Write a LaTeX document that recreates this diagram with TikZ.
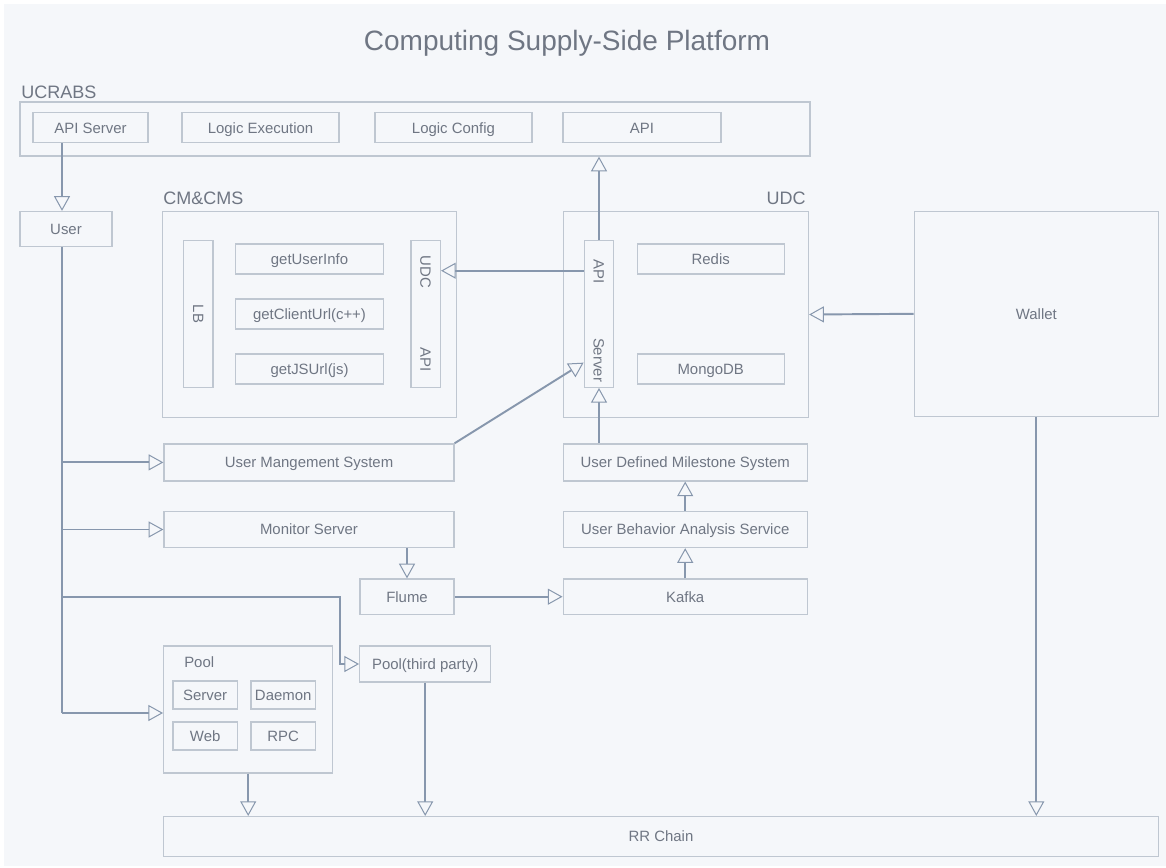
\documentclass[tikz,border=0pt]{standalone}
\usepackage{fontspec}
\setmainfont{Liberation Sans}
\usetikzlibrary{arrows.meta,calc}
\newlength\pxu
\setlength\pxu{0.75pt}
\definecolor{bgc}{HTML}{F5F7FA}
\definecolor{edgec}{HTML}{BFC7D1}
\definecolor{linec}{HTML}{8797AD}
\definecolor{textc}{HTML}{6F7683}

\begin{document}
\begin{tikzpicture}[x=\pxu,y=-\pxu]
  \tikzset{
    txt/.style={inner sep=0pt,text=textc,text height=8pt,text depth=0pt,font=\fontsize{11.2}{13}\selectfont},
    box/.style={txt,draw=edgec,line width=1pt},
    sz/.style 2 args={minimum width=#1\pxu,minimum height=#2\pxu},
    grp/.style={inner sep=0pt,text=textc,font=\fontsize{13.5}{16}\selectfont},
    heading/.style={inner sep=0pt,text=textc,font=\fontsize{21}{25}\selectfont},
    wire/.style={draw=linec,line width=1.45pt},
    conn/.style={wire,-{Triangle[length=11pt,width=12pt,fill=bgc,line width=0.75pt]}}
  }
  \fill[white] (0,0) rectangle (1166,867);
  \fill[bgc] (4,4) rectangle (1166,866);
  \useasboundingbox (0,0) rectangle (1166,867);

  \node[heading] (title) at (567,43) {Computing Supply-Side Platform};

  \node[grp,anchor=west] (ucrabslbl) at (21,92) {UCRABS};
  \node[box,sz={790}{54}] (ucrabs) at (415,129) {};
  \node[box,sz={115}{30}] (apiserver) at (90.5,127.7) {API Server};
  \node[box,sz={157}{30}] (logicexec) at (260.5,127.7) {Logic Execution};
  \node[box,sz={157}{30}] (logicconf) at (453.5,127.7) {Logic Config};
  \node[box,sz={158}{30}] (ucapi) at (642,127.7) {API};

  \node[box,sz={92}{35}] (user) at (66,229) {User};

  \node[grp,anchor=west] (cmslbl) at (163,198) {CM\&CMS};
  \node[box,sz={294}{206}] (cms) at (309.5,314.5) {};
  \node[box,sz={29.4}{146.6}] (lb) at (198.4,314) {};
  \node[txt,rotate=-90] (lbtxt) at (lb) {LB};
  \node[box,sz={148}{30}] (getuser) at (309.5,259) {getUserInfo};
  \node[box,sz={148}{30}] (getclient) at (309.5,314) {getClientUrl(c++)};
  \node[box,sz={148}{30}] (getjs) at (309.5,369) {getJSUrl(js)};
  \node[box,sz={29.4}{146.6}] (udcapi) at (425.7,314) {};
  \node[txt,rotate=-90] (udcapitop) at (425.7,272) {UDC};
  \node[txt,rotate=-90] (udcapibot) at (425.7,360) {API};

  \node[grp,anchor=east] (udclbl) at (806,198) {UDC};
  \node[box,sz={245}{206}] (udc) at (686,314.5) {};
  \node[box,sz={29.5}{146.6}] (apisrv) at (599,314) {};
  \node[txt,rotate=-90] (apisrvtop) at (599,272) {API};
  \node[txt,rotate=-90] (apisrvbot) at (599,360) {Server};
  \node[box,sz={147}{30}] (redis) at (710.7,259) {Redis};
  \node[box,sz={147}{30}] (mongo) at (710.7,369) {MongoDB};

  \node[box,sz={244}{205}] (wallet) at (1036.3,313.8) {Wallet};

  \node[box,sz={290}{37}] (ums) at (309,462.4) {User Mangement System};
  \node[box,sz={290}{36}] (monitor) at (309,529.5) {Monitor Server};
  \node[box,sz={244}{37}] (udms) at (685.2,462.4) {User Defined Milestone System};
  \node[box,sz={244}{36}] (ubas) at (685.2,529.5) {User Behavior Analysis Service};
  \node[box,sz={244}{35.3}] (kafka) at (685.2,596.7) {Kafka};
  \node[box,sz={94}{35.3}] (flume) at (407,596.7) {Flume};
  \node[box,sz={131}{36}] (pool3) at (425.2,664) {Pool(third party)};

  \node[box,sz={169}{127}] (pool) at (248.2,709.4) {};
  \node[txt,anchor=west] (poollbl) at (184,662) {Pool};
  \node[box,sz={64.4}{28.3}] (psrv) at (205.2,695) {Server};
  \node[box,sz={64.4}{28.3}] (pdaemon) at (283.2,695) {Daemon};
  \node[box,sz={64.4}{28.3}] (pweb) at (205.2,736) {Web};
  \node[box,sz={64.4}{28.3}] (prpc) at (283.2,736) {RPC};

  \node[box,sz={995}{40}] (rr) at (661,836.6) {RR Chain};

  \coordinate (trunk) at (62,713);
  \coordinate (bend) at ([xshift=-14pt]pool3.west);
  \coordinate (udcin) at ([yshift=-23pt]udcapi.north east);
  \draw[conn] (apiserver.south -| trunk) -- (user.north -| trunk);
  \draw[wire] (user.south -| trunk) -- (trunk);
  \draw[conn] (trunk |- ums.west) -- (ums.west);
  \draw[conn] (trunk |- monitor.west) -- (monitor.west);
  \draw[conn] (trunk) -- (trunk -| pool.west);
  \draw[conn] (trunk |- flume.west) -| (bend) -- (pool3.west);
  \draw[conn] (monitor.south -| flume.north) -- (flume.north);
  \draw[conn] (flume.east) -- (kafka.west);
  \draw[conn] (kafka.north) -- (ubas.south);
  \draw[conn] (ubas.north) -- (udms.south);
  \draw[conn] (udms.north -| apisrv.south) -- (apisrv.south);
  \draw[conn] (apisrv.north) -- (apisrv.north |- ucrabs.south);
  \draw[conn] (apisrv.west |- udcin) -- (udcin);
  \draw[conn] (ums.north east) -- ([yshift=19pt]apisrv.south west);
  \draw[conn] (wallet.west) -- (udc.east);
  \draw[conn] (wallet.south) -- (wallet.south |- rr.north);
  \draw[conn] (pool.south) -- (pool.south |- rr.north);
  \draw[conn] (pool3.south) -- (pool3.south |- rr.north);
\end{tikzpicture}
\end{document}
